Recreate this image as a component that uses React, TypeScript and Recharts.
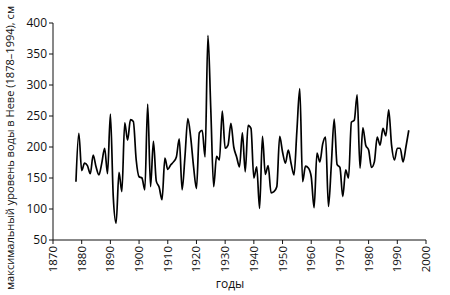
import React from "react";
import { LineChart, Line, XAxis, YAxis } from "recharts";

const startYear = 1878;
const levels: number[] = [
  144, 222, 162, 174, 170, 157, 187, 168, 155, 174, // 1878-1887
  198, 157, 253, 120, 77, 159, 128, 239, 211, 244, // 1888-1897
  241, 179, 152, 150, 131, 269, 136, 209, 145, 135, // 1898-1907
  115, 182, 164, 171, 176, 184, 213, 131, 185, 246, // 1908-1917
  215, 168, 133, 223, 227, 184, 380, 260, 136, 185, // 1918-1927
  179, 258, 198, 203, 238, 200, 184, 168, 223, 160, // 1928-1937
  235, 230, 150, 168, 101, 217, 156, 170, 126, 128, // 1938-1947
  136, 217, 192, 174, 195, 173, 155, 226, 294, 144, // 1948-1957
  169, 166, 152, 102, 190, 176, 205, 216, 104, 171, // 1958-1967
  245, 172, 167, 120, 163, 150, 240, 243, 284, 166, // 1968-1977
  231, 203, 195, 167, 176, 216, 203, 230, 218, 260, // 1978-1987
  203, 179, 198, 198, 176, 200, 227, // 1988-1994
];
const xTicks = [1870, 1880, 1890, 1900, 1910, 1920, 1930, 1940, 1950, 1960, 1970, 1980, 1990, 2000];
const yTicks = [50, 100, 150, 200, 250, 300, 350, 400];
const xTitle = "годы";
const yTitle = "максимальный уровень воды в Неве (1878–1994), см";

const data = levels.map((v, i) => ({ year: startYear + i, level: v }));

const FONT = "'Open Sans', sans-serif";

const XTick = (props: any) => {
  const { x, y, payload } = props;
  return (
    <g transform={`translate(${x},${y})`}>
      <text
        transform="rotate(-90)"
        x={0}
        y={0}
        dy={4}
        textAnchor="end"
        fontSize={11.5}
        fontFamily={FONT}
        fill="#111"
      >
        {payload.value}
      </text>
    </g>
  );
};

const YTick = (props: any) => {
  const { x, y, payload } = props;
  return (
    <text x={x} y={y} dy={4} textAnchor="end" fontSize={12} fontFamily={FONT} fill="#111">
      {payload.value}
    </text>
  );
};

export default function App() {
  return (
    <div style={{ position: "absolute", left: 0, top: 0, background: "#fff" }}>
      <LineChart
        width={450}
        height={295}
        data={data}
        margin={{ top: 23, right: 24, bottom: 0, left: 0 }}
      >
        <XAxis
          dataKey="year"
          type="number"
          domain={[1870, 2000]}
          ticks={xTicks}
          interval={0}
          tick={<XTick />}
          tickSize={4}
          tickMargin={2}
          height={55}
          stroke="#111"
          label={() => (
            <text x={230} y={288} textAnchor="middle" fontSize={12} fontFamily={FONT} fill="#111">
              {xTitle}
            </text>
          )}
        />
        <YAxis
          type="number"
          domain={[50, 400]}
          ticks={yTicks}
          interval={0}
          tick={<YTick />}
          tickSize={4}
          tickMargin={2}
          width={53}
          stroke="#111"
          label={() => (
            <text
              transform="translate(14,148) rotate(-90)"
              textAnchor="middle"
              fontSize={11}
              fontFamily={FONT}
              textLength={284}
              lengthAdjust="spacingAndGlyphs"
              fill="#111"
            >
              {yTitle}
            </text>
          )}
        />
        <Line
          type="monotone"
          dataKey="level"
          stroke="#000"
          strokeWidth={1.7}
          dot={false}
          isAnimationActive={false}
        />
      </LineChart>
    </div>
  );
}
